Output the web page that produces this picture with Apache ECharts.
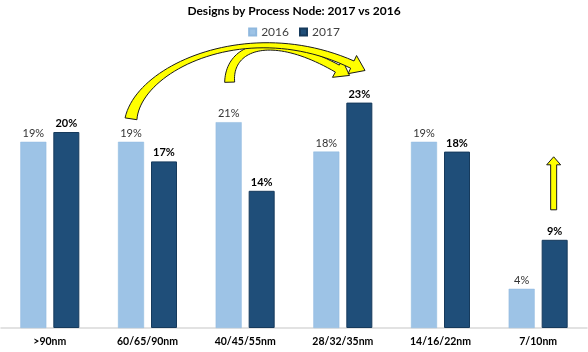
<!DOCTYPE html>
<html>
<head>
<meta charset="utf-8">
<script src="https://cdn.jsdelivr.net/npm/echarts@6/dist/echarts.min.js"></script>
<style>
html,body{margin:0;padding:0;background:#fff;}
#c{width:588px;height:352px;}
</style>
</head>
<body>
<div id="c"></div>
<script>
const categories = ['>90nm', '60/65/90nm', '40/45/55nm', '28/32/35nm', '14/16/22nm', '7/10nm'];
const values2016 = [19, 19, 21, 18, 19, 4];
const values2017 = [20, 17, 14, 23, 18, 9];
const seriesNames = ['2016', '2017'];
const titleText = 'Designs by Process Node: 2017 vs 2016';

const FONT = 'Lato';
const chart = echarts.init(document.getElementById('c'));
const BAR_W = 26;
const GAP = 7;

chart.setOption({
  animation: false,
  backgroundColor: '#fff',
  textStyle: { fontFamily: FONT },
  title: {
    text: titleText, left: 'center', top: 0,
    textStyle: { fontFamily: FONT, fontSize: 12, fontWeight: 'bold', color: '#000' }
  },
  legend: {
    data: seriesNames, top: 21, left: 'center', icon: 'rect',
    itemWidth: 7, itemHeight: 7, itemGap: 10,
    textStyle: { fontFamily: FONT, fontSize: 12, color: '#404040' }
  },
  grid: { left: 1, right: 1, top: 34, bottom: 24, containLabel: false },
  xAxis: {
    type: 'category', data: categories,
    axisLine: { lineStyle: { color: '#d9d9d9', width: 1.5 } },
    axisTick: { show: false },
    axisLabel: { fontFamily: FONT, fontSize: 10.5, fontWeight: 'bold', color: '#000', margin: 8, interval: 0 }
  },
  yAxis: { type: 'value', min: 0, max: 30, show: false, splitLine: { show: false } },
  series: [
    {
      name: seriesNames[0], type: 'bar', data: values2016, barWidth: BAR_W, barGap: (GAP / BAR_W * 100) + '%',
      itemStyle: { color: '#9DC3E6', borderColor: '#8FB8DE', borderWidth: 0.5 },
      label: { show: true, position: 'top', distance: 3, formatter: '{c}%', fontFamily: FONT, fontSize: 11, color: '#333' }
    },
    {
      name: seriesNames[1], type: 'bar', data: values2017, barWidth: BAR_W,
      itemStyle: { color: '#1F4E79', borderColor: '#163A5C', borderWidth: 1 },
      label: { show: true, position: 'top', distance: 3, formatter: '{c}%', fontFamily: FONT, fontSize: 11, fontWeight: 'bold', color: '#000' }
    }
  ]
});

// ---- decorative yellow arrows anchored to bar positions ----
const off = (BAR_W + GAP) / 2;
function barTop(ci, which) {
  const v = which === 0 ? values2016[ci] : values2017[ci];
  const p = chart.convertToPixel({ xAxisIndex: 0, yAxisIndex: 0 }, [ci, v]);
  return [p[0] + (which === 0 ? -off : off), p[1]];
}
function bz(p0, p1, p2, p3, t) {
  const u = 1 - t;
  return [
    u*u*u*p0[0] + 3*u*u*t*p1[0] + 3*u*t*t*p2[0] + t*t*t*p3[0],
    u*u*u*p0[1] + 3*u*u*t*p1[1] + 3*u*t*t*p2[1] + t*t*t*p3[1]
  ];
}
function bzd(p0, p1, p2, p3, t) {
  const u = 1 - t;
  return [
    3*u*u*(p1[0]-p0[0]) + 6*u*t*(p2[0]-p1[0]) + 3*t*t*(p3[0]-p2[0]),
    3*u*u*(p1[1]-p0[1]) + 6*u*t*(p2[1]-p1[1]) + 3*t*t*(p3[1]-p2[1])
  ];
}
function curvedArrow(p0, c1, c2, p3, w0, wm, w1, headW, headL) {
  const N = 48, L = [], R = [];
  for (let i = 0; i <= N; i++) {
    const t = i / N;
    const p = bz(p0, c1, c2, p3, t);
    const d = bzd(p0, c1, c2, p3, t);
    const len = Math.hypot(d[0], d[1]) || 1;
    const n = [-d[1] / len, d[0] / len];
    const u = 1 - t;
    const w = w0*u*u + 2*wm*u*t + w1*t*t;
    L.push([p[0] + n[0]*w/2, p[1] + n[1]*w/2]);
    R.push([p[0] - n[0]*w/2, p[1] - n[1]*w/2]);
  }
  const d = bzd(p0, c1, c2, p3, 1);
  const len = Math.hypot(d[0], d[1]);
  const dir = [d[0]/len, d[1]/len];
  const n = [-dir[1], dir[0]];
  const tip = [p3[0] + dir[0]*headL, p3[1] + dir[1]*headL];
  const hl = [p3[0] + n[0]*headW/2, p3[1] + n[1]*headW/2];
  const hr = [p3[0] - n[0]*headW/2, p3[1] - n[1]*headW/2];
  return L.concat([hl, tip, hr]).concat(R.reverse());
}
function add(a, dx, dy) { return [a[0] + dx, a[1] + dy]; }

const aA = barTop(1, 0);   // 60/65/90nm 2016
const aB = barTop(2, 0);   // 40/45/55nm 2016
const aC = barTop(3, 1);   // 28/32/35nm 2017
const aD = barTop(5, 1);   // 7/10nm 2017

const arrow1 = curvedArrow(add(aA, 0, -23), add(aA, 8, -75), add(aC, -110, -86), add(aC, -7, -38), 12, 0, 8, 20, 14);
const arrow2 = curvedArrow(add(aB, 1, -40), add(aB, 0, -75), add(aC, -90, -72), add(aC, -22, -34), 10, 4, 8, 20, 14);

const sx = aD[0] - 1, sb = aD[1] - 30, st = aD[1] - 75, tipY = aD[1] - 83;
const upArrow = [[sx-3, sb], [sx-3, st], [sx-7, st], [sx, tipY], [sx+7, st], [sx+3, st], [sx+3, sb]];

const arrowStyle = { fill: '#FFFF00', stroke: '#1a1a1a', lineWidth: 1 };
chart.setOption({
  graphic: [
    { type: 'polygon', shape: { points: arrow2 }, style: arrowStyle, z: 100 },
    { type: 'polygon', shape: { points: arrow1 }, style: arrowStyle, z: 101 },
    { type: 'polygon', shape: { points: upArrow }, style: arrowStyle, z: 100 }
  ]
});
</script>
</body>
</html>
